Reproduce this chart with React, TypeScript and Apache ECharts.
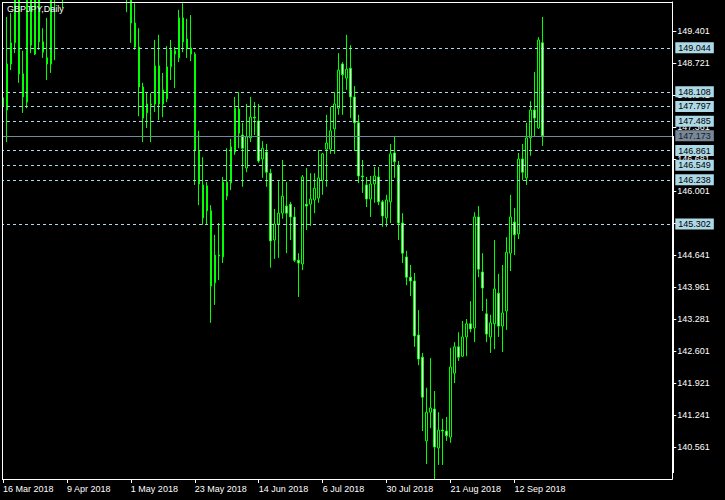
import React, { useEffect, useRef } from 'react';
import * as echarts from 'echarts';

const chartTitle = 'GBPJPY,Daily';
const tickLabels = ['16 Mar 2018', '9 Apr 2018', '1 May 2018', '23 May 2018', '14 Jun 2018', '6 Jul 2018', '30 Jul 2018', '21 Aug 2018', '12 Sep 2018'];
const monthNames = ['Jan', 'Feb', 'Mar', 'Apr', 'May', 'Jun', 'Jul', 'Aug', 'Sep', 'Oct', 'Nov', 'Dec'];
const firstBarDate = [2018, 2, 16];
const slotCount = 168;

const openP = [
  147.98, 147.72, 148.70, 149.15, 150.17, 148.49, 147.89, 150.12, 148.91, 150.10,
  149.17, 148.83, 148.70, 150.17, 150.48, 150.70, 150.50, 151.05, 151.95, 151.60,
  151.90, 152.50, 153.20, 153.10, 152.05, 151.45, 150.60, 150.95, 152.00, 152.35,
  151.85, 150.70, 150.45, 149.57, 149.06, 148.21, 147.66, 147.85, 147.85, 148.66,
  147.85, 147.96, 148.64, 148.98, 148.83, 149.68, 149.23, 149.04, 148.91, 146.85,
  146.13, 146.11, 145.58, 144.05, 144.64, 144.60, 145.89, 146.17, 146.83, 147.74,
  147.19, 146.49, 147.13, 147.57, 147.49, 146.68, 146.83, 146.38, 144.96, 145.30,
  145.53, 145.68, 145.72, 145.45, 144.53, 144.45, 145.72, 145.72, 145.81, 145.85,
  146.23, 146.89, 146.89, 147.32, 147.76, 148.70, 148.40, 148.61, 148.00, 147.45,
  146.32, 146.13, 145.83, 146.15, 146.30, 145.77, 145.43, 145.77, 146.81, 146.53,
  145.32, 144.60, 144.17, 144.09, 142.94, 142.47, 140.69, 141.30, 141.37, 140.54,
  140.92, 140.90, 140.77, 142.13, 142.69, 142.49, 142.90, 143.18, 143.09, 145.45,
  144.28, 143.39, 142.90, 143.18, 143.83, 143.13, 143.45, 144.68, 145.34, 145.09,
  146.68, 146.28, 147.13, 147.72, 147.34, 149.15,
];
const closeP = [
  147.81, 148.70, 149.15, 150.17, 148.49, 148.00, 150.12, 149.10, 150.10, 149.17,
  148.95, 148.70, 150.17, 150.48, 150.80, 150.48, 151.05, 151.95, 151.60, 151.90,
  152.45, 153.20, 153.10, 152.05, 151.45, 150.65, 150.95, 152.00, 152.35, 151.85,
  150.70, 150.45, 149.57, 149.06, 148.21, 147.55, 147.85, 147.83, 148.66, 147.85,
  148.15, 148.64, 149.00, 148.91, 149.68, 149.17, 149.04, 148.91, 146.87, 146.15,
  145.43, 145.58, 143.98, 144.64, 144.62, 146.19, 146.19, 146.94, 147.76, 147.23,
  146.91, 147.15, 147.57, 147.55, 146.64, 146.91, 146.40, 144.94, 145.30, 145.53,
  145.89, 145.53, 145.45, 144.53, 144.47, 146.30, 145.68, 145.83, 146.06, 146.28,
  146.79, 147.02, 147.28, 147.85, 148.57, 148.47, 148.59, 148.00, 147.45, 146.32,
  146.30, 145.83, 146.15, 146.32, 145.77, 145.47, 145.81, 146.79, 146.62, 145.32,
  144.68, 144.17, 144.09, 142.92, 142.43, 141.62, 141.30, 141.39, 140.56, 140.92,
  140.90, 140.80, 142.26, 142.69, 142.47, 142.90, 143.18, 143.07, 145.45, 144.34,
  143.94, 142.96, 143.20, 143.92, 143.13, 143.41, 144.70, 145.45, 145.07, 146.68,
  146.40, 147.13, 147.72, 147.55, 149.21, 147.173,
];
const lowP = [
  147.76, 147.04, 148.57, 148.93, 148.30, 147.66, 147.76, 148.93, 148.89, 149.00,
  148.83, 148.36, 148.51, 148.78, 150.10, 149.89, 150.30, 150.85, 151.20, 151.00,
  151.70, 152.30, 152.60, 151.80, 151.10, 150.50, 150.20, 150.80, 151.70, 151.40,
  150.40, 149.80, 149.15, 149.00, 147.59, 147.04, 147.34, 147.04, 147.68, 147.51,
  147.57, 147.89, 148.36, 148.19, 148.74, 148.95, 148.83, 148.76, 146.13, 145.70,
  145.28, 145.30, 143.20, 143.58, 144.11, 144.47, 145.81, 146.02, 146.77, 146.91,
  146.09, 146.40, 147.04, 147.19, 146.60, 146.28, 146.09, 144.37, 144.56, 144.58,
  145.41, 144.68, 144.96, 144.49, 143.75, 144.32, 145.17, 145.26, 145.53, 145.75,
  145.92, 146.09, 146.79, 146.79, 147.62, 147.62, 148.15, 147.55, 146.85, 146.17,
  145.96, 145.66, 145.45, 145.75, 145.70, 145.24, 145.24, 145.32, 146.28, 144.96,
  144.47, 144.00, 143.77, 142.69, 142.30, 140.90, 140.20, 140.96, 139.88, 140.18,
  140.18, 140.69, 140.65, 141.92, 142.39, 142.48, 142.49, 143.00, 142.79, 144.17,
  143.45, 142.79, 142.56, 142.64, 142.90, 142.58, 143.05, 144.30, 144.64, 144.98,
  146.23, 146.13, 146.75, 147.15, 147.32, 146.96,
];
const highP = [
  148.21, 149.70, 149.78, 150.27, 150.23, 148.98, 150.23, 150.23, 150.19, 150.17,
  149.46, 149.68, 150.27, 150.70, 151.02, 151.12, 151.30, 152.10, 152.20, 152.35,
  152.75, 153.45, 153.85, 153.30, 152.40, 151.70, 151.25, 152.30, 152.60, 152.60,
  152.00, 151.00, 150.60, 149.99, 149.46, 148.30, 148.08, 148.08, 149.21, 149.32,
  148.51, 149.08, 149.21, 149.06, 149.85, 149.99, 149.66, 149.74, 148.95, 147.28,
  146.72, 146.19, 145.70, 145.07, 145.32, 146.30, 146.91, 147.11, 148.00, 148.10,
  147.45, 147.85, 148.00, 147.89, 147.85, 147.06, 147.00, 146.47, 145.62, 146.21,
  146.66, 146.19, 145.77, 145.66, 144.68, 146.34, 146.49, 146.38, 146.38, 146.87,
  146.81, 147.62, 147.79, 148.10, 148.93, 148.74, 149.32, 149.10, 148.23, 147.62,
  146.66, 146.30, 146.32, 146.51, 146.51, 145.81, 145.92, 147.00, 147.15, 146.64,
  145.53, 144.73, 144.43, 144.26, 143.47, 142.56, 141.82, 142.45, 141.75, 141.30,
  141.16, 141.20, 142.67, 142.79, 143.00, 143.24, 143.28, 143.66, 145.55, 145.68,
  144.68, 143.71, 143.37, 144.96, 144.24, 144.43, 145.02, 145.92, 145.64, 146.81,
  147.00, 147.45, 147.91, 148.53, 149.27, 149.70,
];

const levelLines = [149.044, 148.108, 147.797, 147.485, 146.861, 146.549, 146.238, 145.302];
const lastPrice = 147.173;
const axisMin = 139.881;
const axisMax = 150.017;
const axisStep = 0.68;

const FONT = 'Liberation Sans';

function buildCategories(): string[] {
  const out: string[] = [];
  const d = new Date(Date.UTC(firstBarDate[0], firstBarDate[1], firstBarDate[2]));
  while (out.length < slotCount) {
    const wd = d.getUTCDay();
    if (wd !== 0 && wd !== 6) {
      out.push(`${d.getUTCDate()} ${monthNames[d.getUTCMonth()]} ${d.getUTCFullYear()}`);
    }
    d.setUTCDate(d.getUTCDate() + 1);
  }
  return out;
}

export default function App() {
  const ref = useRef<HTMLDivElement>(null);
  useEffect(() => {
    if (!ref.current) return;
    const chart = echarts.init(ref.current, null, { renderer: 'svg' });
    const categories = buildCategories();
    const data = openP.map((o, i) => [o, closeP[i], lowP[i], highP[i]]);
    const showTick = (_i: number, v: string) => tickLabels.includes(v);

    const option: any = {
      animation: false,
      backgroundColor: '#000000',
      textStyle: { fontFamily: FONT },
      grid: { left: 0.3, top: 2, width: 672, height: 477, show: false },
      xAxis: {
        type: 'category',
        data: categories,
        boundaryGap: true,
        axisLine: { show: true, lineStyle: { color: '#ffffff', width: 1 } },
        axisTick: { show: true, alignWithLabel: true, interval: showTick, length: 4, lineStyle: { color: '#ffffff' } },
        axisLabel: {
          interval: showTick,
          color: '#ffffff',
          fontSize: 9,
          fontFamily: FONT,
          align: 'left',
          margin: 5,
          formatter: (v: string) => (tickLabels.includes(v) ? v : ''),
        },
        splitLine: { show: false },
      },
      yAxis: {
        type: 'value',
        position: 'right',
        min: axisMin,
        max: axisMax,
        interval: axisStep,
        axisLine: { show: true, lineStyle: { color: '#ffffff', width: 1 } },
        axisTick: { show: true, length: 4, lineStyle: { color: '#ffffff' } },
        axisLabel: {
          color: '#ffffff',
          fontSize: 9,
          fontFamily: FONT,
          margin: 5,
          showMinLabel: false,
          showMaxLabel: false,
          formatter: (v: number) => v.toFixed(3),
        },
        splitLine: { show: false },
      },
      series: [
        {
          type: 'candlestick',
          data,
          barWidth: 2,
          clip: true,
          itemStyle: {
            color: '#000000',
            color0: '#ffffff',
            borderColor: '#00ff00',
            borderColor0: '#00ff00',
            borderWidth: 1,
          },
          markLine: {
            silent: true,
            symbol: ['none', 'none'],
            animation: false,
            precision: 3,
            lineStyle: { color: '#add8e6', type: [3, 3], width: 1 },
            label: {
              position: 'end',
              distance: 3,
              formatter: (p: any) => p.name,
              backgroundColor: '#add8e6',
              color: '#000000',
              fontSize: 9,
              fontFamily: FONT,
              padding: [1, 3, 1, 3],
            },
            data: [
              ...levelLines.map((v) => ({ yAxis: v, name: v.toFixed(3) })),
              {
                yAxis: lastPrice,
                name: lastPrice.toFixed(3),
                lineStyle: { color: '#778899', type: 'solid', width: 1 },
                label: { backgroundColor: '#778899', color: '#1a1a1a' },
              },
            ],
          },
        },
      ],
      graphic: [
        { type: 'rect', shape: { x: 0, y: 0, width: 2, height: 500 }, style: { fill: '#000000' }, z: 100 },
        { type: 'line', shape: { x1: 2.5, y1: 2, x2: 2.5, y2: 479.5 }, style: { stroke: '#ffffff', lineWidth: 1 }, z: 101 },
        { type: 'line', shape: { x1: 2, y1: 2.5, x2: 673, y2: 2.5 }, style: { stroke: '#ffffff', lineWidth: 1 }, z: 101 },
        { type: 'rect', shape: { x: 672, y: 136, width: 2, height: 337 }, style: { fill: '#ffffff' }, z: 101 },
        {
          type: 'text',
          x: 7,
          y: 4,
          style: { text: chartTitle, fill: '#ffffff', font: `9px "${FONT}"` },
          z: 102,
        },
      ],
    };
    chart.setOption(option);
    return () => chart.dispose();
  }, []);
  return (
    <div
      ref={ref}
      style={{ position: 'absolute', left: 0, top: 0, width: 725, height: 500, background: '#000000' }}
    />
  );
}
